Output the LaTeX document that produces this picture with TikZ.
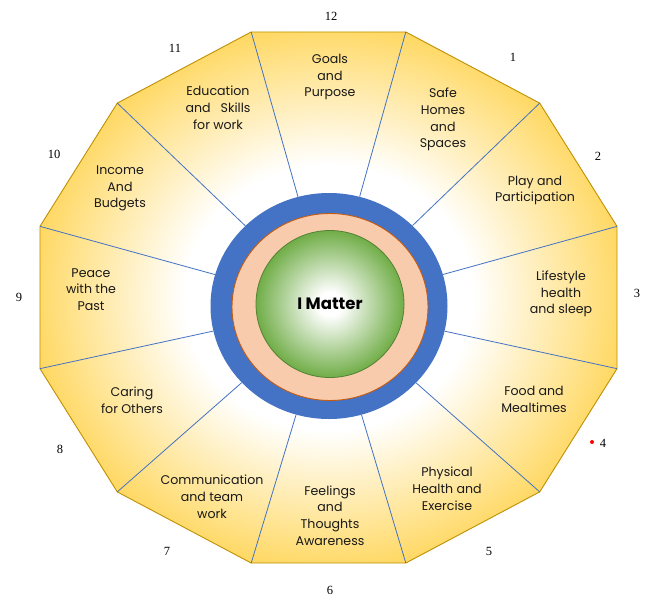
\documentclass[tikz,border=0pt]{standalone}
\usepackage{fontspec}
\setmainfont{Liberation Serif}
\newfontfamily\gothic{Poppins}
\usetikzlibrary{shapes.geometric}
\definecolor{petalgold}{HTML}{FFD966}
\definecolor{petaledge}{HTML}{BF9000}
\definecolor{ringblue}{HTML}{4472C4}
\definecolor{peach}{HTML}{F8CBAD}
\definecolor{peachedge}{HTML}{C55A11}
\definecolor{coregreen}{HTML}{70AD47}
\definecolor{coreedge}{HTML}{548235}
\pgfdeclareradialshading{petalfade}{\pgfpoint{0bp}{0bp}}{color(0bp)=(white);
  color(12.5bp)=(white);color(25.5bp)=(petalgold);color(50bp)=(petalgold)}
\pgfdeclareradialshading{corefade}{\pgfpoint{0bp}{0bp}}{color(0bp)=(white);
  color(4bp)=(white);color(25bp)=(coregreen);color(50bp)=(coregreen)}

\begin{document}
\begin{tikzpicture}[x=1pt,y=-1pt,
  petal/.style={draw=petaledge,line width=0.9pt,shading=petalfade},
  spoke/.style={draw=ringblue,line width=0.8pt},
  ring/.style={ellipse,inner sep=0pt},
  lab/.style={font=\gothic\fontsize{12.6}{16.8}\selectfont,align=center,
    inner sep=0pt,text=black!90},
  num/.style={font=\fontsize{12.5}{14}\selectfont,inner sep=0pt},
  reddot/.style={circle,fill=red,minimum size=4pt,inner sep=0pt}]
\useasboundingbox (0,0) rectangle (657,606);
\foreach \i in {1,...,12}
  \coordinate (v\i) at ({328.5+298.7*cos(105-30*\i)},{297.5-274.9*sin(105-30*\i)});
\path[petal] (v1) \foreach \i in {2,...,12}{-- (v\i)} -- cycle;
\node[ring,fill=ringblue,minimum width=237pt,minimum height=226pt] (blue) at (329,306) {};
\foreach \i in {1,...,12}
  \draw[spoke] (v\i) -- (blue);
\node[ring,fill=peach,draw=peachedge,line width=0.9pt,
  minimum width=196pt,minimum height=187pt] (peach) at (330,307) {};
\node[ring,shading=corefade,draw=coreedge,line width=0.8pt,
  minimum width=148pt,minimum height=147pt] (core) at (330,304) {};
\node[font=\gothic\bfseries\fontsize{16.5}{19}\selectfont,text=black] (me) at (core) {I Matter};
\node[lab] (goals) at (330,77) {Goals\\and\\Purpose};
\node[lab] (safe) at (443,119.5) {Safe\\Homes\\and\\Spaces};
\node[lab] (play) at (535,190.5) {Play and\\Participation};
\node[lab] (life) at (561,294) {Lifestyle\\health\\and sleep};
\node[lab] (food) at (534,399) {Food and\\Mealtimes};
\node[lab] (phys) at (447,489) {Physical\\Health and\\Exercise};
\node[lab] (feel) at (330,515.5) {Feelings\\and\\Thoughts\\Awareness};
\node[lab] (comm) at (212,496.5) {Communication\\and team\\work};
\node[lab] (care) at (132,400.5) {Caring\\for Others};
\node[lab] (peace) at (91,289.5) {Peace\\with the\\Past};
\node[lab] (income) at (120,188.5) {Income\\And\\Budgets};
\node[lab] (edu) at (218,107.5) {Education\\and\ \ \ Skills\\for work};
\node[num] (n12) at (331,16) {12};
\node[num] (n1) at (513,57) {1};
\node[num] (n2) at (598,156) {2};
\node[num] (n3) at (637,293) {3};
\node[num] (n4) at (603,443) {4};
\node[reddot] (mark) at (592,442) {};
\node[num] (n5) at (489,551) {5};
\node[num] (n6) at (330,590) {6};
\node[num] (n7) at (167,551) {7};
\node[num] (n8) at (60,449) {8};
\node[num] (n9) at (19,297) {9};
\node[num] (n10) at (54,154) {10};
\node[num] (n11) at (175,48) {11};
\end{tikzpicture}
\end{document}
